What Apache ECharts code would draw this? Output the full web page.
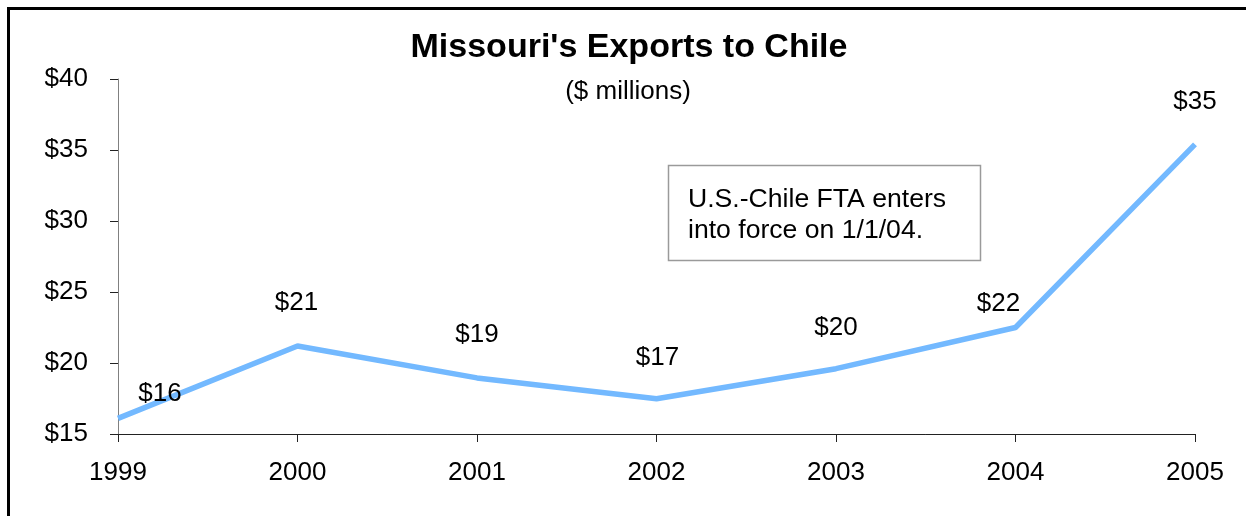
<!DOCTYPE html>
<html>
<head>
<meta charset="utf-8">
<script src="https://cdn.jsdelivr.net/npm/echarts@6/dist/echarts.min.js"></script>
<style>
html,body{margin:0;padding:0;background:#fff;}
#chart{width:1246px;height:516px;}
</style>
</head>
<body>
<div id="chart"></div>
<script>
const years = ['1999','2000','2001','2002','2003','2004','2005'];
const exports = [16.1, 21.2, 18.95, 17.48, 19.6, 22.5, 35.4];
const labelTexts = ['$16','$21','$19','$17','$20','$22','$35'];
const labelOffsets = [[42,-25],[-1,-43],[0,-43],[1,-41],[0,-41],[-17,-24],[0,-42]];
const yTicks = {min: 15, max: 40, interval: 5};
const titleText = "Missouri's Exports to Chile";
const subtitleText = '($ millions)';
const noteLines = ['U.S.-Chile FTA enters', 'into force on 1/1/04.'];

const FONT = '"Liberation Sans", Arial, Helvetica, sans-serif';
const chart = echarts.init(document.getElementById('chart'), null, {renderer: 'canvas'});

const seriesData = exports.map((v, i) => ({
  value: v,
  label: {formatter: labelTexts[i], offset: labelOffsets[i]}
}));

chart.setOption({
  animation: false,
  backgroundColor: '#fff',
  textStyle: {fontFamily: FONT},
  grid: {left: 118, right: 51, top: 79, bottom: 82, containLabel: false},
  xAxis: {
    type: 'category',
    data: years,
    boundaryGap: false,
    axisLine: {show: true, lineStyle: {color: '#222', width: 1}},
    axisTick: {show: true, length: 8, inside: false, lineStyle: {color: '#222'}},
    axisLabel: {color: '#000', fontSize: 26, fontFamily: FONT, margin: 26},
    splitLine: {show: false}
  },
  yAxis: {
    type: 'value',
    min: yTicks.min, max: yTicks.max, interval: yTicks.interval,
    axisLine: {show: true, lineStyle: {color: '#808080', width: 1}},
    axisTick: {show: true, length: 8, lineStyle: {color: '#222'}},
    axisLabel: {color: '#000', fontSize: 26, fontFamily: FONT, margin: 30, formatter: '${value}'},
    splitLine: {show: false}
  },
  series: [{
    type: 'line',
    data: seriesData,
    symbol: 'circle',
    symbolSize: 2,
    showSymbol: true,
    lineStyle: {color: '#73B9FF', width: 5.5},
    itemStyle: {color: 'rgba(115,185,255,0)', borderWidth: 0},
    label: {show: true, position: 'inside', color: '#000', fontSize: 26, fontFamily: FONT},
    emphasis: {disabled: true}
  }],
  graphic: [
    {type: 'polyline', shape: {points: [[8.5, 530], [8.5, 8.5], [1260, 8.5]]},
     style: {stroke: '#000', lineWidth: 3, fill: null}, silent: true},
    {type: 'text', x: 629, y: 48,
     style: {text: titleText, font: 'bold 34px ' + FONT, fill: '#000', textAlign: 'center', textVerticalAlign: 'middle'}},
    {type: 'text', x: 628, y: 92,
     style: {text: subtitleText, font: '26px ' + FONT, fill: '#000', textAlign: 'center', textVerticalAlign: 'middle'}},
    {type: 'rect', shape: {x: 668.5, y: 165.5, width: 312, height: 95},
     style: {stroke: '#9a9a9a', lineWidth: 1.5, fill: '#fff'}},
    {type: 'text', x: 688, y: 215,
     style: {text: noteLines.join('\n'), font: '26.6px ' + FONT, lineHeight: 31, fill: '#000', textAlign: 'left', textVerticalAlign: 'middle'}}
  ]
});
</script>
</body>
</html>
